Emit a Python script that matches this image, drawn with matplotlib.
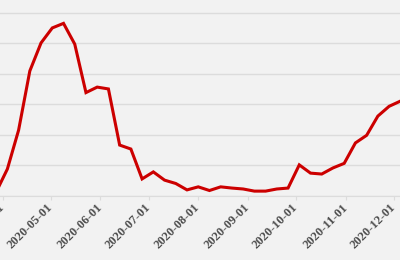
import numpy as np
import pandas as pd
import matplotlib
matplotlib.use('Agg')
import matplotlib.pyplot as plt
import matplotlib.dates as mdates

# weekly values
weeks = pd.date_range('2020-03-28', '2020-12-05', freq='7D')
values = [130, 885, 2160, 4100, 5020, 5510, 5660, 4980, 3390, 3570,
          3510, 1670, 1540, 560, 790, 520, 410, 200, 300, 180,
          300, 260, 230, 160, 160, 230, 260, 1020, 750, 720,
          920, 1070, 1740, 1990, 2620, 2940, 3110]
month_ticks = pd.date_range('2020-04-01', '2020-12-01', freq='MS')

fig = plt.figure(figsize=(4, 2.6), dpi=100)
fig.patch.set_facecolor('#f2f2f2')
ax = fig.add_axes([0, 64 / 260, 1, 196 / 260])
ax.set_facecolor('#f2f2f2')

ax.plot(weeks, values, color='#cc0000', lw=2.2, solid_joinstyle='miter')

x0 = mdates.date2num(pd.Timestamp('2020-04-01'))
ax.set_xlim(x0 - 1.6, x0 + 247.8)
ax.set_ylim(0, 6426)
ax.set_yticks(np.arange(0, 7000, 1000))
ax.yaxis.grid(True, color='#dcdcdc', lw=1)
ax.tick_params(axis='y', left=False, labelleft=False)

ax.set_xticks(mdates.date2num(month_ticks))
ax.xaxis.set_major_formatter(mdates.DateFormatter('%Y-%m-%d'))
ax.tick_params(axis='x', length=3, color='#dcdcdc', pad=4)
for lab in ax.get_xticklabels():
    lab.set_rotation(45)
    lab.set_ha('right')
    lab.set_va('center')
    lab.set_rotation_mode('anchor')
    lab.set_family('Liberation Serif')
    lab.set_weight('bold')
    lab.set_fontsize(9)
    lab.set_color('#4d4d4d')

for s in ['top', 'right', 'left']:
    ax.spines[s].set_visible(False)
ax.spines['bottom'].set_color('#dcdcdc')
ax.set_axisbelow(True)

fig.savefig('out.png', dpi=100, facecolor=fig.get_facecolor())
